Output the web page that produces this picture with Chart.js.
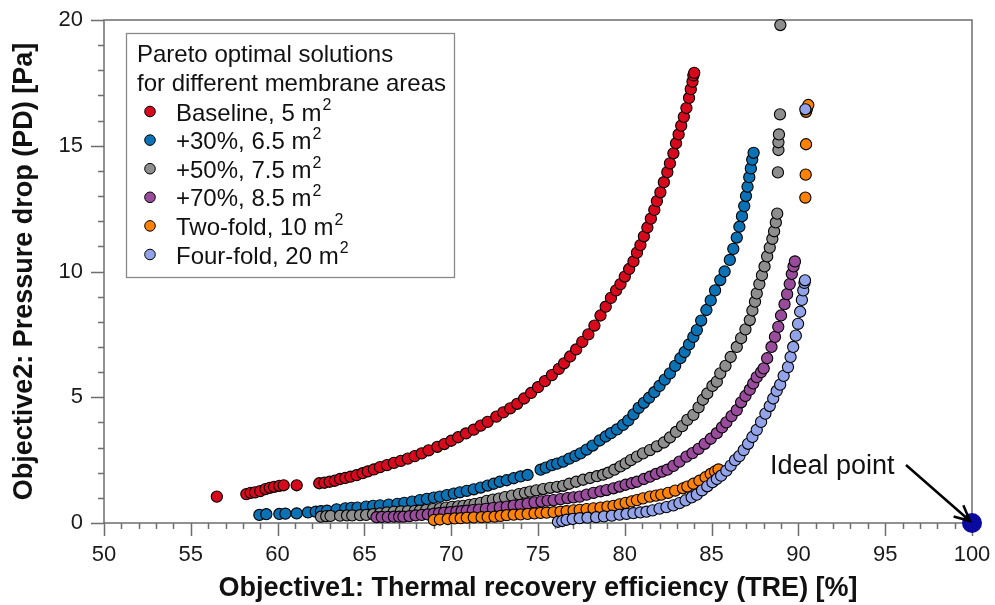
<!DOCTYPE html>
<html>
<head>
<meta charset="utf-8">
<script src="https://cdn.jsdelivr.net/npm/chart.js@4"></script>
<style>
  body { margin: 0; background: #fff; }
  #wrap { width: 995px; height: 605px; }
</style>
</head>
<body>
<div id="wrap"><canvas id="myChart" width="995" height="605"></canvas></div>
<script>
// values: [TRE %, PD Pa]
const baseline = [[56.5,1.05],[58.2,1.15],[58.45,1.2],[58.7,1.22],[59.0,1.27],[59.3,1.35],[59.55,1.4],[59.8,1.44],[60.1,1.48],[60.35,1.5],[61.1,1.5],
  [62.4,1.58],[62.7,1.6],[63.0,1.64],[63.3,1.68],[63.6,1.75],[63.9,1.79],[64.2,1.84],[64.55,1.9],[64.9,1.98],[65.2,2.05],[65.55,2.13],[65.9,2.22],[66.3,2.3],[66.7,2.39],[67.1,2.47],[67.5,2.56],[67.9,2.66],[68.3,2.77],[68.7,2.89],[69.2,3.03],[69.6,3.14],[70.0,3.27],[70.4,3.41],[70.85,3.56],[71.3,3.71],[71.7,3.87],[72.1,4.02],[72.6,4.23],[73.0,4.4],[73.4,4.56],[73.8,4.74],[74.2,4.95],[74.6,5.17],[75.0,5.4],[75.4,5.64],[75.8,5.88],[76.2,6.13],[76.5,6.35],[76.85,6.62],[77.2,6.9],[77.55,7.2],[77.9,7.5],[78.25,7.85],[78.6,8.25],[78.9,8.6],[79.2,8.95],[79.5,9.25],[79.75,9.5],[80.0,9.8],[80.25,10.1],[80.5,10.4],[80.7,10.75],[80.9,11.05],[81.1,11.4],[81.3,11.75],[81.5,12.1],[81.7,12.45],[81.85,12.8],[82.05,13.15],[82.25,13.55],[82.45,13.95],[82.6,14.3],[82.8,14.7],[82.95,15.1],[83.1,15.45],[83.25,15.8],[83.4,16.15],[83.55,16.5],[83.7,16.9],[83.8,17.25],[83.9,17.55],[83.95,17.8],[84.0,17.9]];

const plus30 = [[58.95,0.32],[59.35,0.35],[60.1,0.36],[60.45,0.37],[61.1,0.38],[61.75,0.42],[62.2,0.45],[62.5,0.47],[62.85,0.49],[63.4,0.54],[63.9,0.58],[64.25,0.6],[64.6,0.61],[65.1,0.65],[65.5,0.68],[65.9,0.7],[66.4,0.73],[66.9,0.76],[67.3,0.8],[67.75,0.85],[68.2,0.91],[68.6,0.96],[69.0,1.01],[69.35,1.05],[69.75,1.11],[70.15,1.17],[70.5,1.22],[70.9,1.28],[71.3,1.34],[71.7,1.41],[72.1,1.49],[72.45,1.56],[72.8,1.64],[73.2,1.7],[73.6,1.78],[74.0,1.85],[74.4,1.91],
  [75.15,2.12],[75.45,2.2],[75.8,2.3],[76.1,2.36],[76.45,2.44],[76.8,2.56],[77.15,2.67],[77.45,2.77],[77.8,2.92],[78.15,3.08],[78.55,3.28],[78.9,3.44],[79.2,3.57],[79.55,3.72],[79.9,3.9],[80.2,4.08],[80.5,4.32],[80.8,4.58],[81.1,4.78],[81.4,4.98],[81.7,5.2],[82.0,5.45],[82.3,5.7],[82.6,5.95],[82.9,6.25],[83.2,6.55],[83.45,6.8],[83.7,7.1],[83.95,7.4],[84.15,7.67],[84.4,8.05],[84.7,8.47],[84.95,8.85],[85.2,9.25],[85.5,9.66],[85.75,10.0],[86.05,10.46],[86.25,10.9],[86.45,11.35],[86.6,11.78],[86.75,12.2],[86.88,12.6],[86.98,13.0],[87.07,13.37],[87.17,13.75],[87.26,14.1],[87.34,14.45],[87.42,14.72]];

const plus50 = [[62.5,0.25],[62.8,0.27],[63.05,0.28],[63.6,0.29],[64.0,0.3],[64.3,0.3],[64.75,0.31],[65.1,0.32],[65.5,0.35],[65.9,0.38],[66.3,0.42],[66.7,0.45],[67.1,0.46],[67.5,0.47],[67.9,0.48],[68.2,0.49],[68.55,0.51],[68.95,0.55],[69.35,0.58],[69.7,0.61],[70.05,0.64],[70.4,0.66],[70.7,0.68],[71.05,0.72],[71.35,0.75],[71.7,0.8],[72.05,0.88],[72.4,0.93],[72.75,0.97],[73.1,1.03],[73.5,1.09],[73.9,1.15],[74.25,1.2],[74.55,1.25],[74.9,1.3],[75.3,1.35],[75.7,1.4],[76.1,1.44],[76.45,1.48],[76.8,1.56],[77.2,1.64],[77.6,1.72],[78.0,1.79],[78.4,1.86],[78.75,1.92],[79.05,2.0],[79.4,2.12],[79.75,2.25],[80.05,2.37],[80.35,2.5],[80.7,2.64],[81.05,2.77],[81.45,2.9],[81.85,3.05],[82.25,3.2],[82.6,3.4],[82.95,3.62],[83.3,3.85],[83.6,4.1],[83.95,4.3],[84.25,4.6],[84.5,4.9],[84.75,5.15],[85.05,5.45],[85.3,5.62],[85.5,5.95],[85.8,6.25],[86.1,6.6],[86.45,7.0],[86.7,7.35],[86.95,7.7],[87.2,8.07],[87.35,8.45],[87.5,8.8],[87.6,9.13],[87.75,9.5],[87.9,9.85],[88.05,10.2],[88.2,10.6],[88.35,10.95],[88.5,11.3],[88.6,11.6],[88.7,11.95],[88.78,12.3],
  [88.82,13.94],[88.85,14.83],[88.85,15.14],[88.88,15.45],[88.94,16.25],[88.96,19.8]];

const plus70 = [[65.7,0.23],[66.0,0.24],[66.35,0.24],[66.7,0.25],[67.0,0.25],[67.25,0.25],[67.6,0.27],[67.95,0.3],[68.3,0.32],[68.65,0.34],[69.0,0.37],[69.3,0.39],[69.6,0.41],[69.95,0.43],[70.3,0.45],[70.6,0.47],[70.9,0.49],[71.25,0.51],[71.6,0.53],[72.0,0.56],[72.4,0.59],[72.8,0.62],[73.2,0.65],[73.6,0.69],[74.0,0.72],[74.4,0.77],[74.8,0.82],[75.2,0.86],[75.55,0.89],[75.9,0.91],[76.3,0.95],[76.7,0.99],[77.05,1.02],[77.4,1.05],[77.8,1.13],[78.2,1.2],[78.6,1.26],[78.95,1.31],[79.35,1.38],[79.7,1.45],[80.05,1.52],[80.4,1.58],[80.7,1.64],[81.1,1.75],[81.45,1.84],[81.8,1.95],[82.15,2.04],[82.45,2.12],[82.8,2.27],[83.15,2.44],[83.55,2.64],[83.9,2.78],[84.25,2.95],[84.6,3.15],[84.95,3.35],[85.3,3.57],[85.6,3.8],[85.85,4.0],[86.15,4.25],[86.45,4.49],[86.7,4.8],[86.95,5.05],[87.2,5.3],[87.4,5.55],[87.6,5.8],[87.85,6.0],[88.0,6.15],[88.2,6.55],[88.45,7.0],[88.65,7.4],[88.84,7.8],[89.0,8.25],[89.2,8.7],[89.35,9.1],[89.5,9.5],[89.62,9.9],[89.72,10.2],[89.8,10.4]];

const twoFold = [[69.0,0.12],[69.35,0.14],[69.8,0.16],[70.2,0.18],[70.55,0.19],[70.9,0.21],[71.3,0.22],[71.75,0.23],[72.1,0.24],[72.5,0.25],[72.85,0.28],[73.2,0.31],[73.6,0.33],[74.0,0.34],[74.4,0.36],[74.8,0.38],[75.15,0.4],[75.5,0.41],[75.9,0.43],[76.3,0.45],[76.65,0.47],[77.05,0.5],[77.4,0.52],[77.8,0.55],[78.2,0.58],[78.6,0.61],[79.0,0.65],[79.35,0.68],[79.7,0.74],[80.05,0.8],[80.4,0.86],[80.7,0.91],[81.05,0.98],[81.45,1.05],[81.8,1.09],[82.1,1.13],[82.5,1.2],[82.9,1.29],[83.35,1.38],[83.6,1.45],[83.95,1.56],[84.3,1.68],[84.65,1.82],[84.95,1.95],[85.2,2.05],[85.4,2.13],
  [90.4,12.94],[90.42,13.85],[90.44,15.06],[90.44,16.35],[90.5,16.49],[90.57,16.62]];

const fourFold = [[76.15,0.05],[76.4,0.08],[76.65,0.13],[77.0,0.16],[77.4,0.19],[77.85,0.21],[78.35,0.23],[78.8,0.26],[79.25,0.29],[79.7,0.33],[80.1,0.36],[80.5,0.39],[80.9,0.42],[81.25,0.45],[81.6,0.5],[82.0,0.57],[82.4,0.63],[82.8,0.7],[83.15,0.79],[83.5,0.9],[83.85,1.02],[84.15,1.13],[84.45,1.3],[84.75,1.46],[85.05,1.62],[85.3,1.75],[85.55,1.88],[85.85,2.08],[86.1,2.28],[86.35,2.5],[86.6,2.66],[86.85,2.9],[87.1,3.15],[87.35,3.42],[87.6,3.7],[87.85,4.02],[88.1,4.35],[88.35,4.65],[88.55,4.95],[88.75,5.25],[88.95,5.5],[89.15,5.85],[89.4,6.2],[89.55,6.6],[89.7,7.0],[89.85,7.45],[89.98,7.92],[90.1,8.4],[90.2,8.87],[90.28,9.25],[90.35,9.55],[90.38,9.65],
  [90.4,16.45]];

const idealPoint = [[100, 0]];

const seriesNames = ['Baseline, 5 m²', '+30%, 6.5 m²', '+50%, 7.5 m²', '+70%, 8.5 m²', 'Two-fold, 10 m²', 'Four-fold, 20 m²'];
const seriesColors = ['#d9091d', '#0a72b5', '#8e8e8e', '#994b9c', '#ff8206', '#93a3ea'];
const legendTitle = ['Pareto optimal solutions', 'for different membrane areas'];
const xTicks = [50, 55, 60, 65, 70, 75, 80, 85, 90, 95, 100];
const yTicks = [0, 5, 10, 15, 20];
const xTitle = 'Objective1: Thermal recovery efficiency (TRE) [%]';
const yTitle = 'Objective2: Pressure drop (PD) [Pa]';
const idealLabel = 'Ideal point';

const FONT = "'Liberation Sans', Arial, Helvetica, sans-serif";
Chart.defaults.font.family = FONT;
Chart.defaults.color = '#1a1a1a';

const allSeries = [baseline, plus30, plus50, plus70, twoFold, fourFold];

const datasets = allSeries.map((pts, i) => {
    return {
        label: seriesNames[i],
        data: pts.map(p => ({ x: p[0], y: p[1] })),
        backgroundColor: seriesColors[i],
        borderColor: '#000',
        borderWidth: 1.1,
        pointRadius: 5.6,
        clip: false,
        order: 10 - i
    }
});
datasets.push({
    label: idealLabel,
    data: idealPoint.map(p => ({ x: p[0], y: p[1] })),
    backgroundColor: '#0a0aa0',
    borderWidth: 0,
    pointRadius: 10,
    clip: false,
    order: 0
});

// frame + minor/major ticks, drawn under the points
const frameTicks = {
    id: 'frameTicks',
    beforeDatasetsDraw(chart) {
        const { ctx, chartArea: a, scales: { x, y } } = chart;
        ctx.save();
        ctx.strokeStyle = '#6e6e6e';
        ctx.lineWidth = 1.5;
        ctx.strokeRect(a.left, a.top, a.right - a.left, a.bottom - a.top);
        ctx.beginPath();
        for (let v = 50; v <= 100; v++) {
            const px = Math.round(x.getPixelForValue(v)) + 0.5;
            const len = v % 5 === 0 ? 13 : 6;
            ctx.moveTo(px, a.bottom);
            ctx.lineTo(px, a.bottom + len);
        }
        for (let v = 0; v <= 20; v++) {
            const py = Math.round(y.getPixelForValue(v)) + 0.5;
            const len = v % 5 === 0 ? 13 : 6;
            ctx.moveTo(a.left, py);
            ctx.lineTo(a.left - len, py);
        }
        ctx.stroke();
        ctx.restore();
    }
};

function drawSup(ctx, text, x, yb, size) {
    // last char '²' drawn as a raised small 2
    let main = text, sup = '';
    if (text.endsWith('²')) { main = text.slice(0, -1); sup = '2'; }
    ctx.font = size + 'px ' + FONT;
    ctx.fillText(main, x, yb);
    if (sup) {
        const w = ctx.measureText(main).width;
        ctx.font = Math.round(size * 0.66) + 'px ' + FONT;
        ctx.fillText(sup, x + w + 1, yb - size * 0.42);
    }
}

const legendAndNote = {
    id: 'legendAndNote',
    afterDraw(chart) {
        const { ctx, scales: { x, y } } = chart;
        ctx.save();
        // legend box
        ctx.fillStyle = '#fff';
        ctx.fillRect(126, 33, 328, 244);
        ctx.strokeStyle = '#8a8a8a';
        ctx.lineWidth = 1.3;
        ctx.strokeRect(126.5, 33.5, 328, 244);
        ctx.fillStyle = '#111';
        ctx.textBaseline = 'alphabetic';
        ctx.textAlign = 'left';
        ctx.font = '24px ' + FONT;
        ctx.fillText(legendTitle[0], 137, 62);
        ctx.fillText(legendTitle[1], 137, 91);
        seriesNames.forEach((name, i) => {
            const yb = 120.5 + i * 28.6;
            ctx.beginPath();
            ctx.arc(150, yb - 9, 5.3, 0, Math.PI * 2);
            ctx.fillStyle = seriesColors[i];
            ctx.fill();
            ctx.strokeStyle = '#000';
            ctx.lineWidth = 1;
            ctx.stroke();
            ctx.fillStyle = '#111';
            drawSup(ctx, name, 176, yb, 24);
        });

        // ideal point note + arrow
        ctx.font = '27px ' + FONT;
        ctx.fillStyle = '#111';
        ctx.fillText(idealLabel, 770, 474);
        const tx = x.getPixelForValue(idealPoint[0][0]) - 2;
        const ty = y.getPixelForValue(idealPoint[0][1]) - 2;
        const sx = 906, sy = 465;
        const ang = Math.atan2(ty - sy, tx - sx);
        ctx.strokeStyle = '#000';
        ctx.lineWidth = 2.5;
        ctx.beginPath();
        ctx.moveTo(sx, sy);
        ctx.lineTo(tx, ty);
        ctx.moveTo(tx - 17 * Math.cos(ang - 0.45), ty - 17 * Math.sin(ang - 0.45));
        ctx.lineTo(tx, ty);
        ctx.lineTo(tx - 17 * Math.cos(ang + 0.45), ty - 17 * Math.sin(ang + 0.45));
        ctx.stroke();
        ctx.restore();
    }
};

const ctx = document.getElementById('myChart');

const myChart = new Chart(ctx, {
    type: 'scatter',
    data: { datasets: datasets },
    options: {
        responsive: false,
        animation: false,
        events: [],
        layout: { padding: { top: 20, right: 23, left: 0, bottom: 0 } },
        plugins: { legend: { display: false }, tooltip: { enabled: false } },
        scales: {
            x: {
                type: 'linear',
                min: 50,
                max: 100,
                afterBuildTicks: (scale) => { scale.ticks = xTicks.map(v => ({ value: v })); },
                grid: { display: false, drawTicks: false },
                border: { display: false },
                ticks: { font: { size: 22 }, color: '#1a1a1a', padding: 19, maxRotation: 0, autoSkip: false },
                title: { display: true, text: xTitle, font: { size: 27, weight: 'bold' }, color: '#111', padding: { top: 0, bottom: 0 } },
                afterFit: (scale) => { scale.height = 82; scale.paddingLeft = 0; scale.paddingRight = 0; }
            },
            y: {
                type: 'linear',
                min: 0,
                max: 20,
                afterBuildTicks: (scale) => { scale.ticks = yTicks.map(v => ({ value: v })); },
                grid: { display: false, drawTicks: false },
                border: { display: false },
                ticks: { font: { size: 22 }, color: '#1a1a1a', padding: 21, autoSkip: false },
                title: { display: true, text: yTitle, font: { size: 27, weight: 'bold' }, color: '#111', padding: { top: 8, bottom: 0 } },
                afterFit: (scale) => { scale.width = 104; scale.paddingTop = 0; scale.paddingBottom = 0; }
            }
        }
    },
    plugins: [frameTicks, legendAndNote]
});
</script>
</body>
</html>
